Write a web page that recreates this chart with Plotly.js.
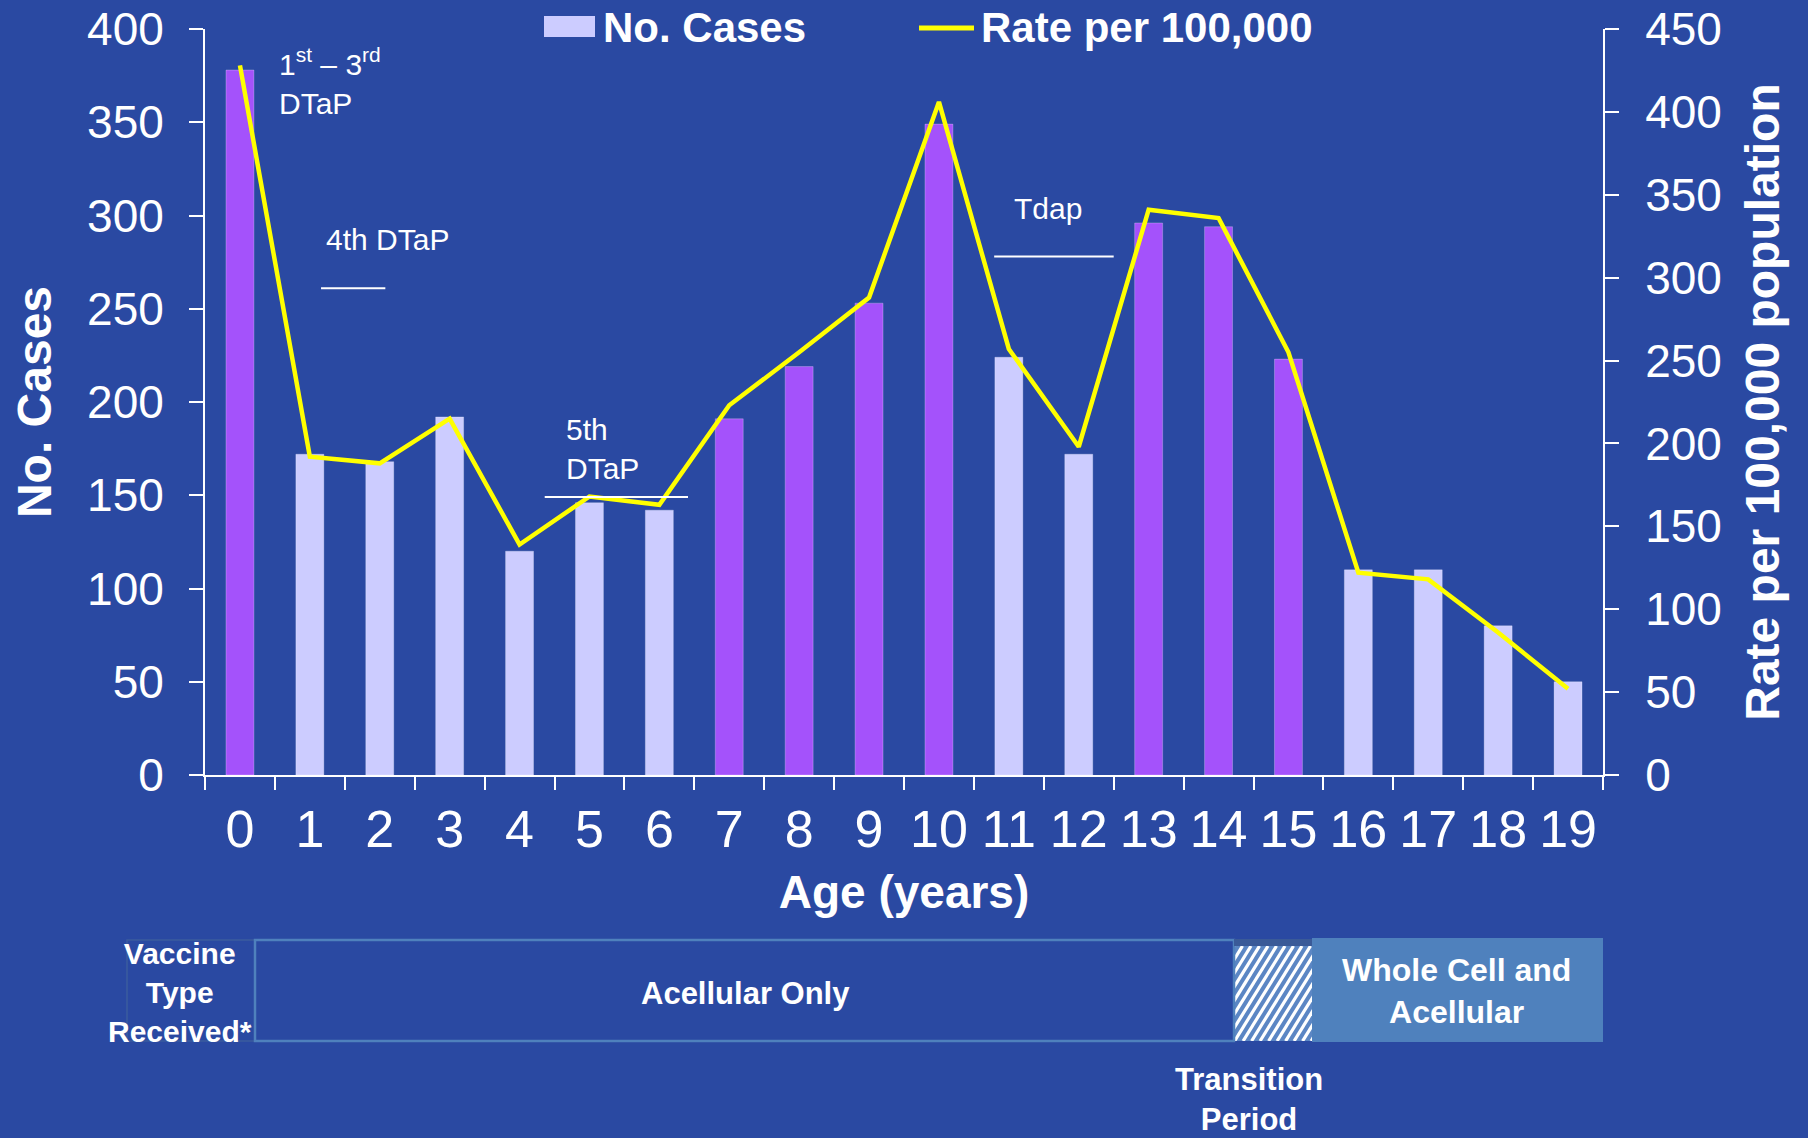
<!DOCTYPE html>
<html>
<head>
<meta charset="utf-8">
<script src="https://cdn.plot.ly/plotly-3.0.1.min.js"></script>
<style>
  html, body { margin: 0; padding: 0; background: #2A49A2; }
  #chart { width: 1808px; height: 1138px; }
</style>
</head>
<body>
<div id="chart"></div>
<script>
// ---------- data ----------
const ages = ['0','1','2','3','4','5','6','7','8','9','10','11','12','13','14','15','16','17','18','19'];
const noCases = [378, 172, 168, 192, 120, 146, 142, 191, 219, 253, 349, 224, 172, 296, 294, 223, 110, 110, 80, 50];
const ratePer100k = [428, 192, 188, 215, 139, 168, 163, 223, 255, 288, 406, 257, 198, 341, 336, 255, 122, 118, 86, 52];
const highlightedAges = ['0','7','8','9','10','13','14','15'];
const leftTicks = [0, 50, 100, 150, 200, 250, 300, 350, 400];
const rightTicks = [0, 50, 100, 150, 200, 250, 300, 350, 400, 450];

// ---------- style ----------
const BG = '#2A49A2';
const PURPLE = '#A452FB';
const LAVENDER = '#CCCCFF';
const YELLOW = '#FFFF00';
const STEEL = '#4F81BD';
const FONT = '"Liberation Sans", Arial, Helvetica, sans-serif';
const NARROW = '"Liberation Sans Narrow", "Arial Narrow", "Liberation Sans", Arial, sans-serif';

// plot area in pixels
const L = 205, R = 1603, T = 29, B = 775;
const px = v => (v - L) / (R - L);
const py = v => (B - v) / (B - T);

const barColors = ages.map(a => highlightedAges.includes(a) ? PURPLE : LAVENDER);

const traces = [
  {
    type: 'bar', x: ages, y: noCases, name: 'No. Cases',
    marker: { color: barColors, line: { color: 'rgba(255,255,255,0.25)', width: 1 } },
    width: 0.4, yaxis: 'y', showlegend: false, hoverinfo: 'x+y'
  },
  {
    type: 'scatter', mode: 'lines', x: ages, y: ratePer100k, name: 'Rate per 100,000',
    line: { color: YELLOW, width: 4.5 }, yaxis: 'y2', showlegend: false
  }
];

// hatch pattern as svg image
function hatchSvg(w, h) {
  let s = `<svg xmlns='http://www.w3.org/2000/svg' width='${w}' height='${h}' viewBox='0 0 ${w} ${h}'>`;
  s += `<rect width='${w}' height='${h}' fill='#5B86C4'/>`;
  const step = 8.5, dx = h * 0.62;
  for (let k = -dx; k < w + step; k += step) {
    s += `<line x1='${k}' y1='${h}' x2='${k + dx}' y2='0' stroke='white' stroke-width='3.2'/>`;
  }
  s += `</svg>`;
  return 'data:image/svg+xml;charset=utf-8,' + encodeURIComponent(s);
}

const shapes = [
  // legend symbols
  { type: 'rect', xref: 'paper', yref: 'paper', x0: px(544), x1: px(595), y0: py(37), y1: py(16),
    fillcolor: LAVENDER, line: { width: 0 } },
  { type: 'line', xref: 'paper', yref: 'paper', x0: px(919), x1: px(974), y0: py(28), y1: py(28),
    line: { color: YELLOW, width: 5 } },
  // vaccine annotation lines (data coordinates)
  { type: 'line', xref: 'x', yref: 'y', x0: 1.16, x1: 2.08, y0: 261, y1: 261, line: { color: 'white', width: 2 } },
  { type: 'line', xref: 'x', yref: 'y', x0: 4.36, x1: 6.41, y0: 149, y1: 149, line: { color: 'white', width: 2 } },
  { type: 'line', xref: 'x', yref: 'y', x0: 10.79, x1: 12.5, y0: 278, y1: 278, line: { color: 'white', width: 2 } },
  // bottom panel
  { type: 'rect', xref: 'paper', yref: 'paper', x0: px(127), x1: px(255), y0: py(1041), y1: py(940),
    line: { color: '#3B5C9E', width: 1.5 }, fillcolor: 'rgba(0,0,0,0)' },
  { type: 'rect', xref: 'paper', yref: 'paper', x0: px(255), x1: px(1234), y0: py(1041), y1: py(940),
    line: { color: STEEL, width: 2.5 }, fillcolor: 'rgba(0,0,0,0)' },
  { type: 'rect', xref: 'paper', yref: 'paper', x0: px(1234), x1: px(1312), y0: py(946), y1: py(939),
    line: { width: 0 }, fillcolor: '#3A5A98' },
  { type: 'rect', xref: 'paper', yref: 'paper', x0: px(1312), x1: px(1603), y0: py(1042), y1: py(938),
    line: { width: 0 }, fillcolor: STEEL }
];

const images = [
  { source: hatchSvg(78, 95), xref: 'paper', yref: 'paper', x: px(1234), y: py(946),
    sizex: px(1312) - px(1234), sizey: py(946) - py(1041), xanchor: 'left', yanchor: 'top',
    sizing: 'stretch', layer: 'above' }
];

const white = 'white';
const annotations = [
  // legend text
  { xref: 'paper', yref: 'paper', x: px(601), y: py(27), xanchor: 'left', yanchor: 'middle', showarrow: false,
    text: '<b>No. Cases</b>', font: { family: FONT, size: 42, color: white } },
  { xref: 'paper', yref: 'paper', x: px(979), y: py(27), xanchor: 'left', yanchor: 'middle', showarrow: false,
    text: '<b>Rate per 100,000</b>', font: { family: FONT, size: 42, color: white } },
  // vaccine schedule labels
  { xref: 'x', yref: 'y', x: 0.53, y: 372, xanchor: 'left', yanchor: 'middle', showarrow: false, align: 'left',
    text: '1<sup>st</sup> – 3<sup>rd</sup><br>DTaP', font: { family: FONT, size: 30, color: white } },
  { xref: 'x', yref: 'y', x: 1.2, y: 287, xanchor: 'left', yanchor: 'middle', showarrow: false,
    text: '4th DTaP', font: { family: FONT, size: 30, color: white } },
  { xref: 'x', yref: 'y', x: 4.64, y: 175, xanchor: 'left', yanchor: 'middle', showarrow: false, align: 'left',
    text: '5th<br>DTaP', font: { family: FONT, size: 30, color: white } },
  { xref: 'x', yref: 'y', x: 11.05, y: 304, xanchor: 'left', yanchor: 'middle', showarrow: false,
    text: 'Tdap', font: { family: FONT, size: 30, color: white } },
  // bottom panel text
  { xref: 'paper', yref: 'paper', x: px(180), y: py(992), xanchor: 'center', yanchor: 'middle', showarrow: false,
    text: '<b>Vaccine<br>Type<br>Received*</b>', font: { family: NARROW, size: 30, color: white } },
  { xref: 'paper', yref: 'paper', x: px(745), y: py(993), xanchor: 'center', yanchor: 'middle', showarrow: false,
    text: '<b>Acellular Only</b>', font: { family: FONT, size: 31, color: white } },
  { xref: 'paper', yref: 'paper', x: px(1456), y: py(991), xanchor: 'center', yanchor: 'middle', showarrow: false,
    text: '<b>Whole Cell and<br>Acellular</b>', font: { family: FONT, size: 32, color: white } },
  { xref: 'paper', yref: 'paper', x: px(1249), y: py(1099), xanchor: 'center', yanchor: 'middle', showarrow: false,
    text: '<b>Transition<br>Period</b>', font: { family: FONT, size: 31, color: white } }
];

const layout = {
  width: 1808, height: 1138,
  paper_bgcolor: BG, plot_bgcolor: BG,
  margin: { l: L, r: 1808 - R, t: T, b: 1138 - B, pad: 0 },
  showlegend: false,
  bargap: 0.6,
  xaxis: {
    type: 'category', range: [-0.5, 19.5], tickson: 'boundaries',
    ticks: 'outside', ticklen: 13, tickwidth: 2, tickcolor: white,
    showline: true, linecolor: white, linewidth: 2, showgrid: false, zeroline: false,
    tickfont: { family: NARROW, size: 52, color: white }, ticklabelstandoff: 8,
    title: { text: '<b>Age (years)</b>', font: { family: FONT, size: 46, color: white }, standoff: 18 }
  },
  yaxis: {
    range: [0, 400], tickvals: leftTicks, ticks: 'outside', ticklen: 14, tickwidth: 2, tickcolor: white,
    showline: true, linecolor: white, linewidth: 2, showgrid: false, zeroline: false,
    tickfont: { family: FONT, size: 46, color: white }, ticklabelstandoff: 16,
    title: { text: '<b>No. Cases</b>', font: { family: FONT, size: 48, color: white }, standoff: 20 }
  },
  yaxis2: {
    overlaying: 'y', side: 'right', range: [0, 450], tickvals: rightTicks,
    ticks: 'outside', ticklen: 14, tickwidth: 2, tickcolor: white,
    showline: true, linecolor: white, linewidth: 2, showgrid: false, zeroline: false,
    tickfont: { family: FONT, size: 46, color: white }, ticklabelstandoff: 17,
    title: { text: '<b>Rate per 100,000 population</b>', font: { family: FONT, size: 48, color: white }, standoff: 24 }
  },
  shapes: shapes,
  images: images,
  annotations: annotations
};

Plotly.newPlot('chart', traces, layout, { displayModeBar: false, staticPlot: true });
</script>
</body>
</html>
